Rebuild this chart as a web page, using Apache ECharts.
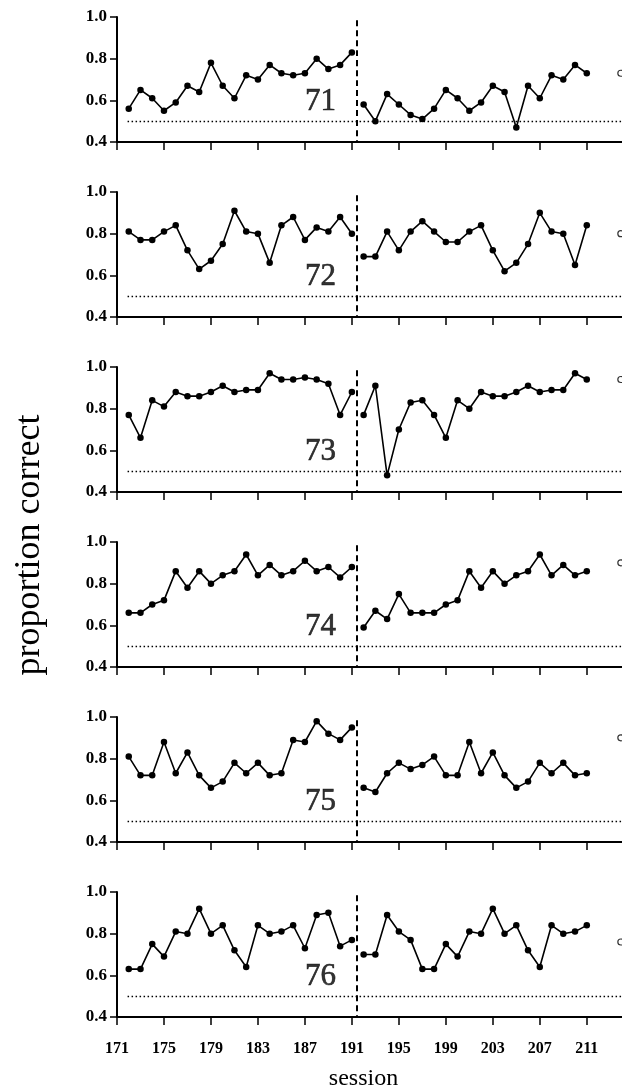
<!DOCTYPE html>
<html>
<head>
<meta charset="utf-8">
<script src="https://cdn.jsdelivr.net/npm/echarts@6/dist/echarts.min.js"></script>
<style>
  html, body { margin: 0; padding: 0; background: #fff; }
  #chart { width: 622px; height: 1089px; }
</style>
</head>
<body>
<div id="chart"></div>
<script>
// Sessions before and after the phase change
const sessionsBefore = [172,173,174,175,176,177,178,179,180,181,182,183,184,185,186,187,188,189,190,191];
const sessionsAfter  = [192,193,194,195,196,197,198,199,200,201,202,203,204,205,206,207,208,209,210,211];
const xTickValues = [171,175,179,183,187,191,195,199,203,207,211];
const yTickValues = [0.4,0.6,0.8,1.0];
const panelIds = ['71','72','73','74','75','76'];

// Proportion correct per session, one pair of arrays per subject
const before71 = [0.56,0.65,0.61,0.55,0.59,0.67,0.64,0.78,0.67,0.61,0.72,0.70,0.77,0.73,0.72,0.73,0.80,0.75,0.77,0.83];
const after71  = [0.58,0.50,0.63,0.58,0.53,0.51,0.56,0.65,0.61,0.55,0.59,0.67,0.64,0.47,0.67,0.61,0.72,0.70,0.77,0.73];
const before72 = [0.81,0.77,0.77,0.81,0.84,0.72,0.63,0.67,0.75,0.91,0.81,0.80,0.66,0.84,0.88,0.77,0.83,0.81,0.88,0.80];
const after72  = [0.69,0.69,0.81,0.72,0.81,0.86,0.81,0.76,0.76,0.81,0.84,0.72,0.62,0.66,0.75,0.90,0.81,0.80,0.65,0.84];
const before73 = [0.77,0.66,0.84,0.81,0.88,0.86,0.86,0.88,0.91,0.88,0.89,0.89,0.97,0.94,0.94,0.95,0.94,0.92,0.77,0.88];
const after73  = [0.77,0.91,0.48,0.70,0.83,0.84,0.77,0.66,0.84,0.80,0.88,0.86,0.86,0.88,0.91,0.88,0.89,0.89,0.97,0.94];
const before74 = [0.66,0.66,0.70,0.72,0.86,0.78,0.86,0.80,0.84,0.86,0.94,0.84,0.89,0.84,0.86,0.91,0.86,0.88,0.83,0.88];
const after74  = [0.59,0.67,0.63,0.75,0.66,0.66,0.66,0.70,0.72,0.86,0.78,0.86,0.80,0.84,0.86,0.94,0.84,0.89,0.84,0.86];
const before75 = [0.81,0.72,0.72,0.88,0.73,0.83,0.72,0.66,0.69,0.78,0.73,0.78,0.72,0.73,0.89,0.88,0.98,0.92,0.89,0.95];
const after75  = [0.66,0.64,0.73,0.78,0.75,0.77,0.81,0.72,0.72,0.88,0.73,0.83,0.72,0.66,0.69,0.78,0.73,0.78,0.72,0.73];
const before76 = [0.63,0.63,0.75,0.69,0.81,0.80,0.92,0.80,0.84,0.72,0.64,0.84,0.80,0.81,0.84,0.73,0.89,0.90,0.74,0.77];
const after76  = [0.70,0.70,0.89,0.81,0.77,0.63,0.63,0.75,0.69,0.81,0.80,0.92,0.80,0.84,0.72,0.64,0.84,0.80,0.81,0.84];

// Open marker at the right edge of each panel
const edgeMarker = [0.73,0.80,0.94,0.90,0.90,0.76];
const edgeMarkerSession = 213.9;
const chanceLevel = 0.5;
const phaseBoundary = 191.4;

const beforeData = [before71, before72, before73, before74, before75, before76];
const afterData  = [after71, after72, after73, after74, after75, after76];

const SERIF = '"Liberation Serif", "DejaVu Serif", serif';
const chart = echarts.init(document.getElementById('chart'), null, { renderer: 'canvas' });

const grids = [], xAxes = [], yAxes = [], series = [];
const panelTop = 17, panelStep = 175, panelHeight = 125;

panelIds.forEach((id, i) => {
  const last = i === panelIds.length - 1;
  grids.push({ left: 117, right: 0, top: panelTop + panelStep * i, height: panelHeight,
    outerBoundsMode: 'none', containLabel: false });
  xAxes.push({
    type: 'value', gridIndex: i, min: 171, max: 214,
    axisLine: { show: true, onZero: false, lineStyle: { color: '#000', width: 2 } },
    axisTick: { show: true, inside: false, length: 8, customValues: xTickValues, lineStyle: { color: '#000', width: 1.5 } },
    axisLabel: { show: last, customValues: xTickValues, margin: 24, color: '#000',
      fontFamily: SERIF, fontSize: 16, fontWeight: 'bold' },
    splitLine: { show: false },
    name: last ? 'session' : '', nameLocation: 'middle', nameGap: 50,
    nameTextStyle: { fontFamily: SERIF, fontSize: 24, color: '#000', padding: [0, 12, 0, 0] }
  });
  yAxes.push({
    type: 'value', gridIndex: i, min: 0.4, max: 1.0, interval: 0.2,
    axisLine: { show: true, onZero: false, lineStyle: { color: '#000', width: 2 } },
    axisTick: { show: true, inside: false, length: 7, lineStyle: { color: '#000', width: 1.5 } },
    axisLabel: { margin: 10, color: '#000', fontFamily: SERIF, fontSize: 17, fontWeight: 'bold',
      formatter: v => v.toFixed(1) },
    splitLine: { show: false }
  });

  const lineStyle = { color: '#000', width: 1.6 };
  const marker = { symbol: 'circle', symbolSize: 6.5, itemStyle: { color: '#000' } };

  series.push({
    type: 'line', xAxisIndex: i, yAxisIndex: i, ...marker, lineStyle,
    data: sessionsBefore.map((s, k) => [s, beforeData[i][k]]),
    markLine: {
      silent: true, symbol: 'none', label: { show: false },
      data: [
        [{ coord: [phaseBoundary, 0.985] }, { coord: [phaseBoundary, 0.4],
          lineStyle: { type: [6, 4], width: 2, color: '#000' } }],
        [{ coord: [171.9, chanceLevel] }, { coord: [214, chanceLevel],
          lineStyle: { type: [1.5, 2.5], width: 1.3, color: '#000' } }]
      ]
    }
  });
  series.push({
    type: 'line', xAxisIndex: i, yAxisIndex: i, ...marker, lineStyle,
    data: sessionsAfter.map((s, k) => [s, afterData[i][k]])
  });
  series.push({
    type: 'scatter', xAxisIndex: i, yAxisIndex: i, symbol: 'circle', symbolSize: 6,
    itemStyle: { color: '#fff', borderColor: '#000', borderWidth: 1.2 },
    data: [[edgeMarkerSession, edgeMarker[i]]]
  });
  // Subject number inside the panel
  series.push({
    type: 'scatter', xAxisIndex: i, yAxisIndex: i, symbolSize: 1,
    itemStyle: { color: 'rgba(0,0,0,0)' },
    label: { show: true, position: 'left', distance: 0, formatter: id,
      fontFamily: SERIF, fontSize: 31, color: '#000',
      textBorderColor: '#000', textBorderWidth: 0.6 },
    data: [[189.7, 0.595]]
  });
});

chart.setOption({
  animation: false,
  backgroundColor: '#fff',
  grid: grids,
  xAxis: xAxes,
  yAxis: yAxes,
  series: series,
  graphic: [{
    type: 'text', x: 30, y: 545, rotation: Math.PI / 2,
    style: { text: 'proportion correct', textAlign: 'center', textVerticalAlign: 'middle',
      font: '36px ' + SERIF, fill: '#000' }
  }]
});
</script>
</body>
</html>
